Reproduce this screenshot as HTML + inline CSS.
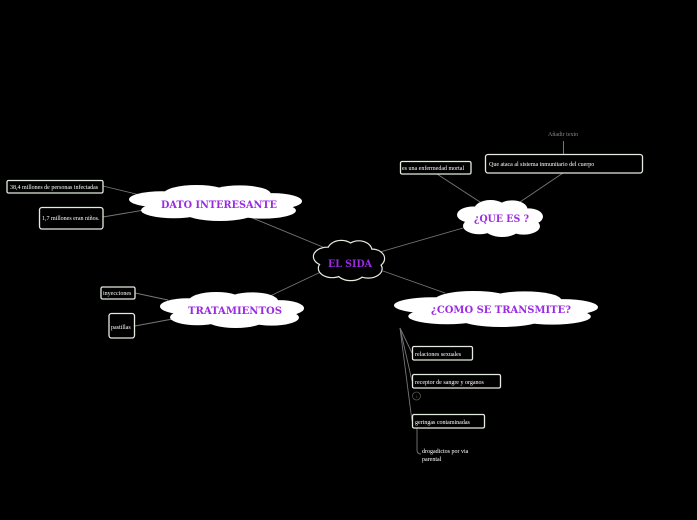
<!DOCTYPE html>
<html><head><meta charset="utf-8"><style>
html,body{margin:0;padding:0;background:#000;width:697px;height:520px;overflow:hidden}
svg{display:block}
.t{font-family:"Liberation Serif",serif;font-size:6px;fill:#fff}
.h{font-family:"DejaVu Serif","Liberation Serif",serif;font-weight:bold;fill:#9a2be2;text-anchor:middle}
.b{fill:#000;stroke:#e4ecdf;stroke-width:1.3}
.l{stroke:#777;stroke-width:0.9;fill:none}
</style></head><body>
<svg width="697" height="520" viewBox="0 0 697 520" xmlns="http://www.w3.org/2000/svg">
<defs>
<g id="cl">
<ellipse cx="-0.62" cy="-0.2" rx="0.38" ry="0.45"/>
<ellipse cx="-0.22" cy="-0.5" rx="0.38" ry="0.5"/>
<ellipse cx="0.28" cy="-0.5" rx="0.36" ry="0.48"/>
<ellipse cx="0.66" cy="-0.1" rx="0.34" ry="0.45"/>
<ellipse cx="0.55" cy="0.42" rx="0.38" ry="0.45"/>
<ellipse cx="0.05" cy="0.55" rx="0.4" ry="0.45"/>
<ellipse cx="-0.48" cy="0.4" rx="0.38" ry="0.45"/>
<ellipse cx="0" cy="0" rx="0.8" ry="0.6"/>
</g>
<g id="sida">
<ellipse cx="327.3" cy="256.6" rx="13.3" ry="8.8"/>
<ellipse cx="341.3" cy="250.75" rx="13.3" ry="9.75"/>
<ellipse cx="358.8" cy="250.75" rx="12.6" ry="9.36"/>
<ellipse cx="372.1" cy="258.55" rx="11.9" ry="8.8"/>
<ellipse cx="368.25" cy="268.7" rx="13.3" ry="8.8"/>
<ellipse cx="350.75" cy="271.2" rx="14" ry="8.8"/>
<ellipse cx="332.2" cy="268.3" rx="13.3" ry="8.8"/>
<ellipse cx="349" cy="260.5" rx="28" ry="11.7"/>
</g>
</defs>
<line class="l" x1="250" y1="217" x2="330" y2="250"/>
<line class="l" x1="270" y1="296" x2="325" y2="270"/>
<line class="l" x1="380" y1="252" x2="470" y2="226"/>
<line class="l" x1="383" y1="271" x2="445" y2="293"/>
<line class="l" x1="103" y1="186" x2="140" y2="195"/>
<line class="l" x1="103" y1="217" x2="150" y2="209"/>
<line class="l" x1="135" y1="293" x2="168" y2="300"/>
<line class="l" x1="135" y1="326" x2="178" y2="318"/>
<line class="l" x1="437" y1="174" x2="480" y2="202"/>
<line class="l" x1="563" y1="173" x2="520" y2="202"/>
<line x1="563.5" y1="141" x2="563.5" y2="154" stroke="#777" stroke-width="1"/>
<line class="l" x1="400" y1="328" x2="412" y2="353"/>
<line class="l" x1="400" y1="328" x2="412" y2="381"/>
<line class="l" x1="400" y1="328" x2="412" y2="421"/>
<path class="l" d="M417 428 L417 450 Q417 454 421 454"/>
<g fill="#fff" stroke="none">
<use href="#cl" transform="translate(215.5 203) scale(86.5 18)"/>
<use href="#cl" transform="translate(232 310) scale(72 18)"/>
<use href="#cl" transform="translate(500 218.5) scale(43 18.5)"/>
<use href="#cl" transform="translate(496 309) scale(102 18)"/>
</g>
<use href="#sida" fill="#fff" stroke="#e4ecdf" stroke-width="2.4"/>
<use href="#sida" fill="#000" stroke="none"/>
<text class="h" x="219" y="208" font-size="10.5" textLength="116" lengthAdjust="spacingAndGlyphs">DATO INTERESANTE</text>
<text class="h" x="235" y="314" font-size="10.5" textLength="94" lengthAdjust="spacingAndGlyphs">TRATAMIENTOS</text>
<text class="h" x="501.5" y="222" font-size="10" textLength="55" lengthAdjust="spacingAndGlyphs">¿QUE ES ?</text>
<text class="h" x="350" y="267" font-size="10" textLength="44" lengthAdjust="spacingAndGlyphs">EL SIDA</text>
<text class="h" x="501" y="313" font-size="10.5" textLength="140" lengthAdjust="spacingAndGlyphs">¿COMO SE TRANSMITE?</text>
<rect class="b" x="7" y="180.5" width="96" height="12.5" rx="1.5"/>
<text class="t" x="10" y="189" font-size="5.6">38,4 millones de personas infectadas</text>
<rect class="b" x="39.5" y="207.5" width="63.5" height="21.5" rx="2.5"/>
<text class="t" x="42" y="220" font-size="5.8">1,7  millones eran niños.</text>
<rect class="b" x="101" y="287" width="34" height="12" rx="1.5"/>
<text class="t" x="103" y="295" font-size="5.6">inyecciones</text>
<rect class="b" x="109" y="313.5" width="25.5" height="24.5" rx="2.5"/>
<text class="t" x="111" y="329" font-size="5.6">pastillas</text>
<rect class="b" x="400.5" y="161.5" width="70.5" height="12.5" rx="1.5"/>
<text class="t" x="402" y="170" font-size="5.7">es una enfermedad mortal</text>
<rect class="b" x="485.5" y="154.5" width="157" height="18.5" rx="2.5"/>
<text class="t" x="489" y="166" font-size="5.7">Que ataca al sistema inmunitario del cuerpo</text>
<text class="t" x="548" y="136" font-size="5.6" style="fill:#888">Añadir texto</text>
<rect class="b" x="412.5" y="346.5" width="60" height="13.5" rx="1.5"/>
<text class="t" x="415" y="356" font-size="5.8">relaciones sexuales</text>
<rect class="b" x="412.5" y="374.5" width="88" height="13.5" rx="1.5"/>
<text class="t" x="415" y="384" font-size="5.8">receptor de sangre y organos</text>
<circle cx="416.5" cy="396" r="4" fill="none" stroke="#555" stroke-width="0.8"/>
<text x="416.5" y="398" font-size="4" fill="#555" text-anchor="middle" font-family="Liberation Sans,sans-serif">1</text>
<rect class="b" x="412.5" y="414.5" width="72" height="13.5" rx="1.5"/>
<text class="t" x="415" y="424" font-size="5.8">geringas contaminadas</text>
<text class="t" x="422" y="453" font-size="5.8">drogadictos por via</text>
<text class="t" x="422" y="461" font-size="5.8">parental</text>
</svg>
</body></html>
